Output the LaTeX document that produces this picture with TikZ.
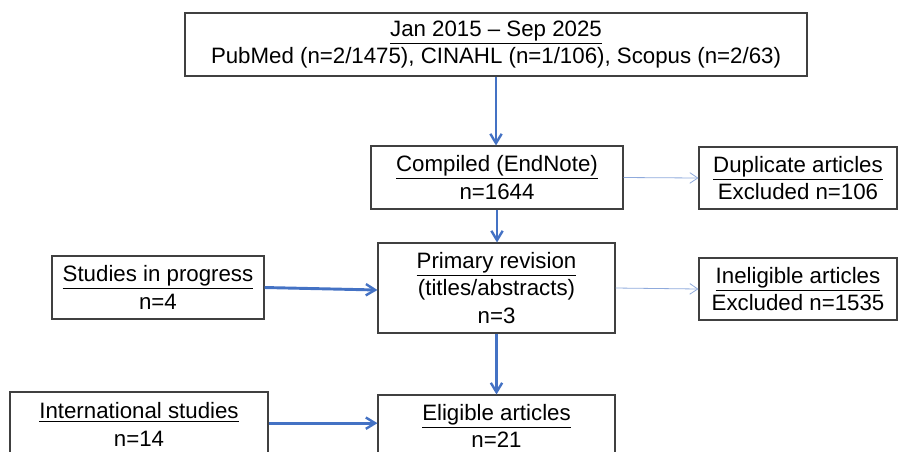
\documentclass[tikz,border=0pt]{standalone}
\usepackage{fontspec}
\setmainfont{Liberation Sans}
\usetikzlibrary{arrows.meta}
\definecolor{arrblue}{HTML}{4472C4}
\definecolor{thinblue}{HTML}{8FAADC}
\definecolor{boxline}{HTML}{404040}
\begin{document}
\begin{tikzpicture}[x=0.75pt,y=-0.75pt,
  box/.style={draw=boxline,line width=0.8pt,rectangle,align=center,inner sep=0pt,
    font=\fontsize{16.7}{20.5}\selectfont},
  thick arrow/.style={draw=arrblue,line width=2.2pt,-{Straight Barb[length=7pt,width=8.5pt,line width=1.8pt]}},
  thin arrow/.style={draw=thinblue,line width=0.6pt,-{Straight Barb[length=6pt,width=8pt,line width=0.6pt]}}]
\useasboundingbox (0,0) rectangle (898,451);
\begin{scope}
\clip (0,0) rectangle (898,451);
\node[box,minimum width=466.5pt,minimum height=47.25pt] (top) at (496,44.5)
  {\underline{Jan 2015 -- Sep 2025}\\PubMed (n=2/1475), CINAHL (n=1/106), Scopus (n=2/63)};
\node[box,minimum width=189pt,minimum height=47.25pt] (comp) at (497,177.5)
  {\underline{Compiled (EndNote)}\\n=1644};
\node[box,minimum width=148.5pt,minimum height=46.5pt] (dup) at (798,178)
  {\underline{Duplicate articles}\\Excluded n=106};
\node[box,minimum width=177.75pt,minimum height=67.5pt] (prim) at (496.5,288)
  {\underline{Primary revision}\\(titles/abstracts)\\n=3};
\node[box,minimum width=159pt,minimum height=47.25pt] (prog) at (158,287.5)
  {\underline{Studies in progress}\\n=4};
\node[box,minimum width=148.5pt,minimum height=46.5pt] (inel) at (798,289)
  {\underline{Ineligible articles}\\Excluded n=1535};
\node[box,minimum width=193.5pt,minimum height=48.75pt] (intl) at (139,424.5)
  {\underline{International studies}\\n=14};
\node[box,minimum width=177.75pt,minimum height=46.5pt] (elig) at (496.5,426)
  {\underline{Eligible articles}\\n=21};
\draw[thick arrow] (top.south) -- (top.south |- comp.north);
\draw[thick arrow] (comp.south) -- (comp.south |- prim.north);
\draw[thick arrow] (prim.south) -- (elig.north);
\draw[thin arrow] (comp.east) -- (dup.west);
\draw[thin arrow] (prim.east) -- (inel.west);
\draw[thick arrow] (prog.east) -- ([yshift=-1.5pt]prim.west);
\draw[thick arrow] ([yshift=1pt]intl.east) -- ([yshift=1pt]intl.east -| elig.west);
\end{scope}
\end{tikzpicture}
\end{document}
